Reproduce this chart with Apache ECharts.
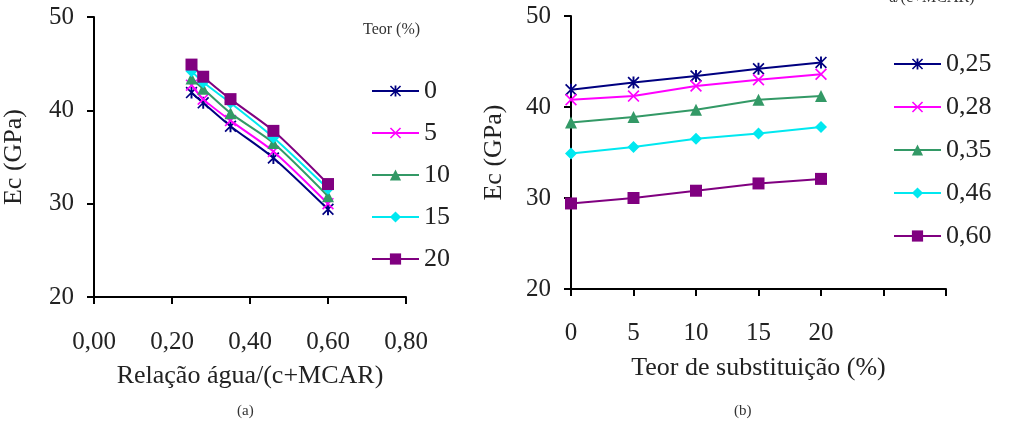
<!DOCTYPE html>
<html>
<head>
<meta charset="utf-8">
<script src="https://cdn.jsdelivr.net/npm/echarts@6/dist/echarts.min.js"></script>
<style>html,body{margin:0;padding:0;background:#fff}#c{width:1016px;height:432px}</style>
</head>
<body>
<div id="c"></div>
<script>
// ---- data ----
const wcRatios = [0.25, 0.28, 0.35, 0.46, 0.60];      // Relação água/(c+MCAR)
const teores = [0, 5, 10, 15, 20];                    // Teor de substituição (%)
const wcLabels = ['0,25', '0,28', '0,35', '0,46', '0,60'];
const teorLabels = ['0', '5', '10', '15', '20'];
// Ec (GPa) for each w/c ratio, across teores 0,5,10,15,20
const ec025 = [41.9, 42.7, 43.4, 44.2, 44.9];
const ec028 = [40.8, 41.2, 42.3, 43.0, 43.6];
const ec035 = [38.3, 38.9, 39.7, 40.8, 41.2];
const ec046 = [34.9, 35.6, 36.5, 37.1, 37.8];
const ec060 = [29.4, 30.0, 30.8, 31.6, 32.1];
const ecByWc = [ec025, ec028, ec035, ec046, ec060];

// ---- styles ----
const colors = ['#000080', '#ff00ff', '#339966', '#00e8f0', '#800080'];
const asterisk = 'path://M0,1L1,0L10,9L9,10ZM9,0L10,1L1,10L0,9ZM4.2,0L5.8,0L5.8,10L4.2,10Z';
const cross = 'path://M0,1L1,0L10,9L9,10ZM9,0L10,1L1,10L0,9Z';
const symbols = [asterisk, cross, 'triangle', 'diamond', 'rect'];
const symSizes = [12, 12, 12, 12, 12];
const serif = '"Liberation Serif", "DejaVu Serif", serif';

function fmtComma(v, d) { return v.toFixed(d).replace('.', ','); }

const series = [];
// (a): one series per teor, x = w/c ratio
teores.forEach((t, j) => {
  series.push({
    name: teorLabels[j], type: 'line', xAxisIndex: 0, yAxisIndex: 0,
    smooth: 0.25,
    data: wcRatios.map((w, i) => [w, ecByWc[i][j]]),
    symbol: symbols[j], symbolSize: symSizes[j],
    lineStyle: { color: colors[j], width: 2 },
    itemStyle: { color: colors[j] },
    z: 2 + j
  });
});
// (b): one series per w/c ratio, x = teor
wcRatios.forEach((w, i) => {
  series.push({
    name: wcLabels[i], type: 'line', xAxisIndex: 1, yAxisIndex: 1,
    data: teores.map((t, j) => [t, ecByWc[i][j]]),
    symbol: symbols[i], symbolSize: symSizes[i],
    lineStyle: { color: colors[i], width: 2 },
    itemStyle: { color: colors[i] },
    z: 2 + i
  });
});

const axisLine = { show: true, lineStyle: { color: '#000', width: 2 } };
const axisTick = { show: true, inside: false, length: 7, lineStyle: { color: '#000', width: 2 } };
const labelStyle = { color: '#222', fontFamily: serif, fontSize: 25 };
const nameStyle = { color: '#222', fontFamily: serif, fontSize: 26 };

const option = {
  backgroundColor: '#fff',
  animation: false,
  grid: [
    { left: 93, top: 17, width: 313, height: 280 },
    { left: 571, top: 16, width: 375, height: 273 }
  ],
  xAxis: [
    {
      gridIndex: 0, type: 'value', min: 0, max: 0.8, interval: 0.2,
      axisLine, axisTick, splitLine: { show: false },
      axisLabel: Object.assign({ margin: 33, formatter: v => fmtComma(v, 2) }, labelStyle),
      name: 'Relação água/(c+MCAR)', nameLocation: 'middle', nameGap: 66, nameTextStyle: nameStyle
    },
    {
      gridIndex: 1, type: 'value', min: 0, max: 30, interval: 5,
      axisLine, axisTick, splitLine: { show: false },
      axisLabel: Object.assign({ margin: 32, formatter: v => (v <= 20 ? String(v) : '') }, labelStyle),
      name: 'Teor de substituição (%)', nameLocation: 'middle', nameGap: 66, nameTextStyle: nameStyle
    }
  ],
  yAxis: [
    {
      gridIndex: 0, type: 'value', min: 20, max: 50, interval: 10,
      axisLine, axisTick, splitLine: { show: false },
      axisLabel: Object.assign({ margin: 20 }, labelStyle),
      name: 'Ec (GPa)', nameLocation: 'middle', nameGap: 67, nameTextStyle: nameStyle
    },
    {
      gridIndex: 1, type: 'value', min: 20, max: 50, interval: 10,
      axisLine, axisTick, splitLine: { show: false },
      axisLabel: Object.assign({ margin: 20 }, labelStyle),
      name: 'Ec (GPa)', nameLocation: 'middle', nameGap: 64, nameTextStyle: nameStyle
    }
  ],
  legend: [
    {
      data: teorLabels, orient: 'vertical', left: 366, top: 73,
      itemWidth: 47, itemHeight: 14, itemGap: 16,
      textStyle: { color: '#222', fontFamily: serif, fontSize: 26, lineHeight: 26 }
    },
    {
      data: wcLabels, orient: 'vertical', left: 888, top: 46,
      itemWidth: 47, itemHeight: 14, itemGap: 17,
      textStyle: { color: '#222', fontFamily: serif, fontSize: 26, lineHeight: 26 }
    }
  ],
  graphic: [
    { type: 'text', left: 363, top: 22, style: { text: 'Teor (%)', font: '16px ' + serif, fill: '#333' } },
    { type: 'text', left: 889, top: -10, style: { text: 'a/(c+MCAR)', font: '16px ' + serif, fill: '#333' } },
    { type: 'text', left: 237, top: 404, style: { text: '(a)', font: '15px ' + serif, fill: '#333' } },
    { type: 'text', left: 734, top: 404, style: { text: '(b)', font: '15px ' + serif, fill: '#333' } }
  ],
  series
};

const chart = echarts.init(document.getElementById('c'), null, { renderer: 'canvas' });
chart.setOption(option);
</script>
</body>
</html>
